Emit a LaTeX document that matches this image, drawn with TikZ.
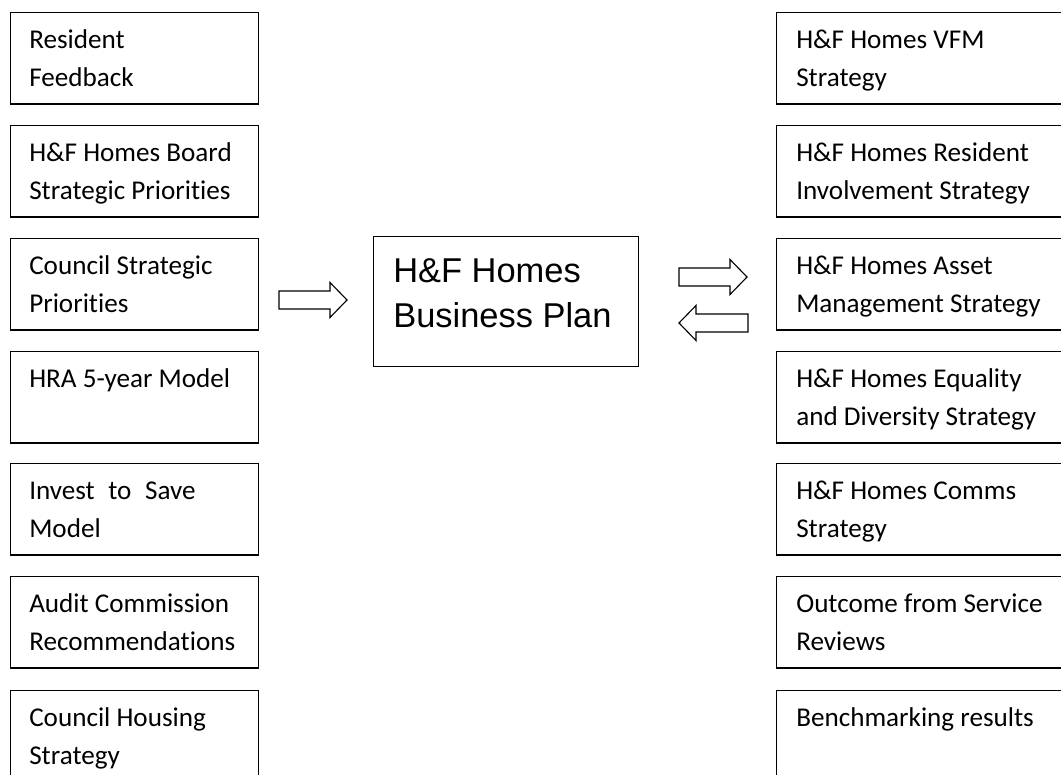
\documentclass[tikz,border=0pt]{standalone}
\usepackage{fontspec}
\setmainfont{Carlito}[Ligatures=NoCommon]
\newfontfamily\planfont{Liberation Sans}
\usepackage{tikz}

\tikzset{
  sidebox/.style={draw,line width=1pt,minimum height=2.28cm,anchor=north west,inner sep=0pt},
  leftbox/.style={sidebox,minimum width=6.2cm},
  rightbox/.style={sidebox,minimum width=7.5cm},
  boxtext/.style={anchor=north west,align=left,inner sep=0pt,font=\fontsize{19.3}{27}\selectfont},
  blockarrow/.style={draw,line width=0.8pt,fill=white,line join=miter}
}

\begin{document}
\begin{tikzpicture}[x=1cm,y=1cm]
\path[use as bounding box] (0,0) rectangle (26.525,19.375);
\clip (0,0) rectangle (26.525,19.375);
% inputs on the left
\node[leftbox] (res) at (0.25,19.075) {};
\node[boxtext] (res-t) at ([xshift=0.475cm,yshift=-0.236cm]res.north west) {\strut Resident\\Feedback};
\node[leftbox] (board) at (0.25,16.25) {};
\node[boxtext] (board-t) at ([xshift=0.475cm,yshift=-0.236cm]board.north west) {\strut H\&F Homes Board\\Strategic Priorities};
\node[leftbox] (council) at (0.25,13.425) {};
\node[boxtext] (council-t) at ([xshift=0.475cm,yshift=-0.236cm]council.north west) {\strut Council Strategic\\Priorities};
\node[leftbox] (hra) at (0.25,10.6) {};
\node[boxtext] (hra-t) at ([xshift=0.475cm,yshift=-0.236cm]hra.north west) {\strut HRA 5-year Model};
\node[leftbox] (invest) at (0.25,7.8) {};
\node[boxtext] (invest-t) at ([xshift=0.475cm,yshift=-0.236cm]invest.north west) {\strut Invest\hspace{0.5em}to\hspace{0.5em}Save\\Model};
\node[leftbox] (audit) at (0.25,4.975) {};
\node[boxtext] (audit-t) at ([xshift=0.475cm,yshift=-0.236cm]audit.north west) {\strut Audit Commission\\Recommendations};
\node[leftbox] (housing) at (0.25,2.125) {};
\node[boxtext] (housing-t) at ([xshift=0.475cm,yshift=-0.236cm]housing.north west) {\strut Council Housing\\Strategy};
% strategies on the right
\node[rightbox] (vfm) at (19.4,19.075) {};
\node[boxtext] (vfm-t) at ([xshift=0.5cm,yshift=-0.236cm]vfm.north west) {\strut H\&F Homes VFM\\Strategy};
\node[rightbox] (involve) at (19.4,16.25) {};
\node[boxtext] (involve-t) at ([xshift=0.5cm,yshift=-0.236cm]involve.north west) {\strut H\&F Homes Resident\\Involvement Strategy};
\node[rightbox] (asset) at (19.4,13.425) {};
\node[boxtext] (asset-t) at ([xshift=0.5cm,yshift=-0.236cm]asset.north west) {\strut H\&F Homes Asset\\Management Strategy};
\node[rightbox] (equality) at (19.4,10.6) {};
\node[boxtext] (equality-t) at ([xshift=0.5cm,yshift=-0.236cm]equality.north west) {\strut H\&F Homes Equality\\and Diversity Strategy};
\node[rightbox] (comms) at (19.4,7.8) {};
\node[boxtext] (comms-t) at ([xshift=0.5cm,yshift=-0.236cm]comms.north west) {\strut H\&F Homes Comms\\Strategy};
\node[rightbox] (outcome) at (19.4,4.975) {};
\node[boxtext] (outcome-t) at ([xshift=0.5cm,yshift=-0.236cm]outcome.north west) {\strut Outcome from Service\\Reviews};
\node[rightbox] (bench) at (19.4,2.125) {};
\node[boxtext] (bench-t) at ([xshift=0.5cm,yshift=-0.236cm]bench.north west) {\strut Benchmarking results};
% business plan
\node[draw,line width=1pt,minimum width=6.625cm,minimum height=3.25cm,anchor=north west,inner sep=0pt] (plan) at (9.325,13.475) {};
\node[anchor=north west,align=left,inner sep=0pt,font=\planfont\fontsize{24.5}{32}\selectfont] (plan-t) at ([xshift=0.5cm,yshift=-0.363cm]plan.north west) {\strut H\&F Homes\\Business Plan};
% block arrows
\draw[blockarrow] (6.975,11.65) -- (8.25,11.65) -- (8.25,11.4375) -- (8.675,11.875)
  -- (8.25,12.3125) -- (8.25,12.1) -- (6.975,12.1) -- cycle;
\draw[blockarrow] (16.975,12.225) -- (18.25,12.225) -- (18.25,12.0125) -- (18.675,12.45)
  -- (18.25,12.8875) -- (18.25,12.675) -- (16.975,12.675) -- cycle;
\draw[blockarrow] (18.7,11.075) -- (17.4,11.075) -- (17.4,10.8625) -- (16.975,11.3)
  -- (17.4,11.7375) -- (17.4,11.525) -- (18.7,11.525) -- cycle;
\end{tikzpicture}
\end{document}
